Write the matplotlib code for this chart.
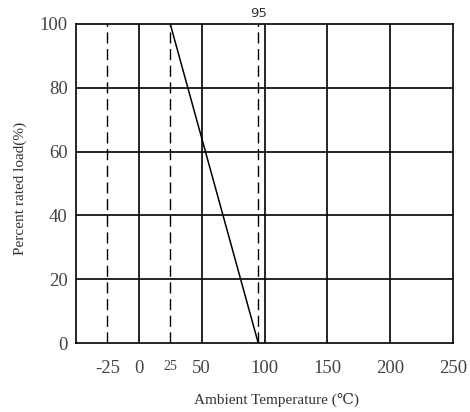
import matplotlib
matplotlib.use("Agg")
import matplotlib.pyplot as plt

# Data
derating_temp = [25, 95]
derating_load = [100, 0]
x_ticks = [-25, 0, 25, 50, 100, 150, 200, 250]
y_ticks = [0, 20, 40, 60, 80, 100]
solid_grid_x = [0, 50, 100, 150, 200]
dashed_grid_x = [-25, 25, 95]
marked_temp = 95

serif = ['Liberation Serif', 'DejaVu Serif']
plt.rcParams['font.family'] = serif

fig = plt.figure(figsize=(4.70, 4.12), dpi=100)
ax = fig.add_axes([76/470, 1-343/412, (453-76)/470, (343-24)/412])
ax.set_xlim(-50, 250)
ax.set_ylim(0, 100)

for x in solid_grid_x:
    ax.axvline(x, color='black', lw=1.2)
for x in dashed_grid_x:
    ax.axvline(x, color='black', lw=1.0, ls=(0, (8, 4)))
for y in y_ticks[1:-1]:
    ax.axhline(y, color='black', lw=1.2)

ax.plot(derating_temp, derating_load, color='black', lw=1.1)

for s in ax.spines.values():
    s.set_color('black')
    s.set_linewidth(1.2)

ax.set_xticks(x_ticks)
ax.set_xticklabels([str(v) for v in x_ticks])
ax.set_yticks(y_ticks)
ax.tick_params(axis='both', length=0, labelsize=13.5, colors='#444444')
ax.tick_params(axis='x', pad=12)
ax.tick_params(axis='y', pad=6)
for lab in ax.get_xticklabels():
    if lab.get_text() == '25':
        lab.set_fontsize(10)

ax.text(marked_temp, 101.3, str(marked_temp), ha='center', va='bottom',
        fontsize=9.5, family=['DejaVu Sans'], color='#333333')

fig.text(20/470, 1-188/412, 'Percent rated load(%)', rotation=90,
         ha='center', va='center', fontsize=11, color='#333333')
fig.text(277/470, 1-400/412, 'Ambient Temperature (\u2103)',
         ha='center', va='center', fontsize=11, color='#333333')

fig.savefig('out.png', dpi=100)
